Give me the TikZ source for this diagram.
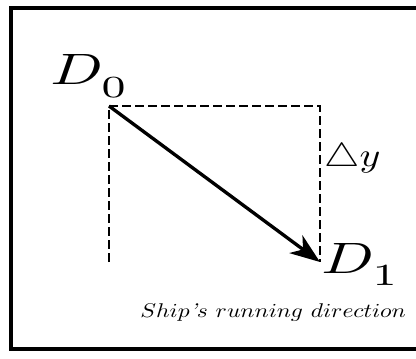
\RequirePackage{fix-cm}
\documentclass[tikz,border=0pt]{standalone}
\usepackage{graphicx}
\usetikzlibrary{arrows.meta}
% stretched label text: x factor, y factor, text
\newcommand{\wide}[3]{\scalebox{#1}[#2]{#3}}
% point name with a lowered index
\newcommand{\pointname}[1]{$D_{\lower1.4pt\hbox{$\scriptstyle #1$}}$}
\begin{document}
\begin{tikzpicture}[
  lbl/.style={inner sep=0pt, anchor=base west},
  guide/.style={dashed, line width=1pt, dash pattern=on 5pt off 2.4pt},
  arrow/.style={-{Stealth[length=17pt, width=12.5pt, inset=5pt]}, line width=1.9pt}
]
  \useasboundingbox (0, 0) rectangle (8.32, 7.16);
  \draw[line width=2pt] (0.22, 0.18) rectangle (8.6, 7.0);

  \coordinate (p0) at (2.18, 5.04);
  \coordinate (pc) at (6.40, 5.04);
  \coordinate (p1) at (6.40, 1.92);
  \coordinate (pb) at (2.18, 1.92);

  \node[lbl] (d0) at (1.00, 5.46) {\wide{3.5}{2.5}{\pointname{0}}};
  \node[lbl] (d1) at (6.42, 1.70) {\wide{3.5}{2.5}{\pointname{1}}};
  \node[lbl] (dy) at (6.48, 3.82) {\wide{2.26}{1.9}{$\triangle y$}};
  \node[lbl] (dir) at (2.80, 0.82)
    {\wide{1.34}{1.13}{$Ship\textit{'}s\ running\ direction$}};

  \draw[guide] (pb) -- (p0) -- (pc) -- (p1);
  \draw[arrow] (p0) -- (p1);

\end{tikzpicture}
\end{document}
